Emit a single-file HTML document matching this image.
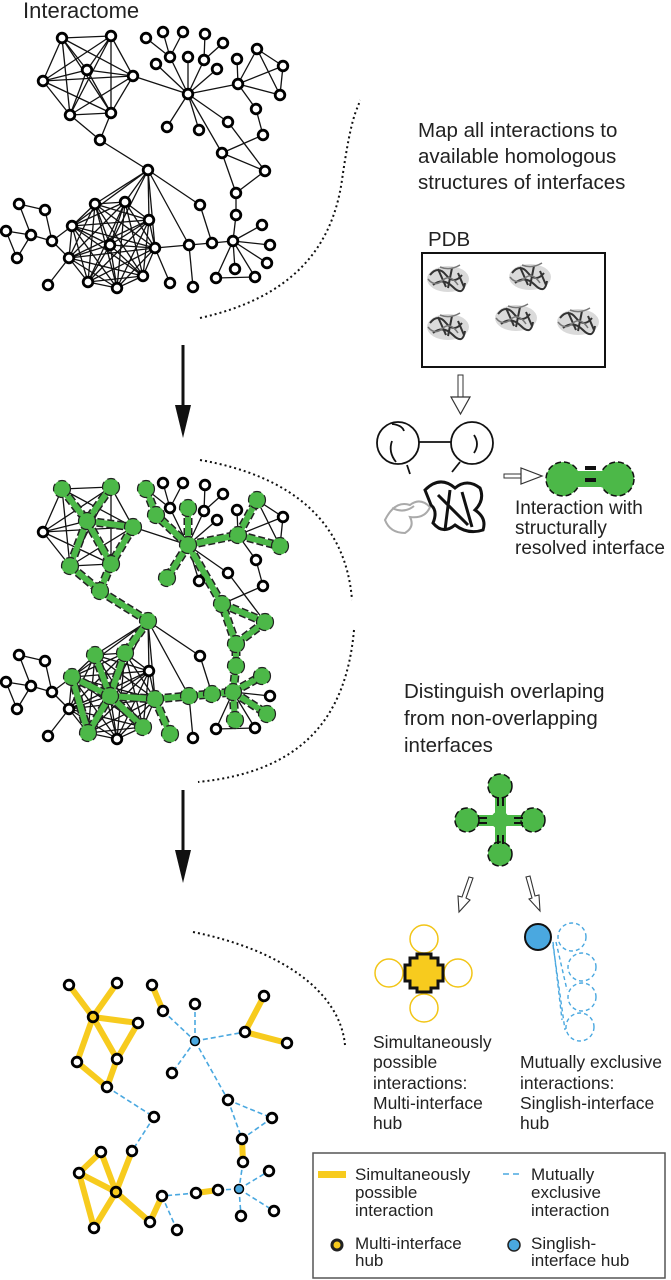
<!DOCTYPE html>
<html><head><meta charset="utf-8"><style>
html,body{margin:0;padding:0;background:#fff;}
svg{display:block;font-family:"Liberation Sans",Arial,sans-serif;}
</style></head><body>
<svg id="fig" width="671" height="1280" viewBox="0 0 671 1280" xmlns="http://www.w3.org/2000/svg">
<text x="23" y="18" font-size="22" fill="#222">Interactome</text>
<g id="net1"></g>
<g id="net2"></g>
<g id="net3"></g>

<g fill="none" stroke="#111" stroke-width="2" stroke-dasharray="2 3">
<path d="M200,318 C290,298 332,250 342,180 S357,112 360,100"/>
<path d="M200,460 C292,476 346,522 352,600"/>
<path d="M354,630 C346,720 300,772 198,782"/>
<path d="M193,932 C282,950 340,992 345,1045"/>
</g>

<g><line x1="183" y1="345" x2="183" y2="410" stroke="#111" stroke-width="3"/><polygon points="175,405 191,405 183,438" fill="#111"/></g>
<g><line x1="183" y1="790" x2="183" y2="855" stroke="#111" stroke-width="3"/><polygon points="175,850 191,850 183,883" fill="#111"/></g>

<g font-size="20.5" fill="#222">
<text x="418" y="137">Map all interactions to</text>
<text x="418" y="163">available homologous</text>
<text x="418" y="189">structures of interfaces</text>
</g>
<text x="428" y="246" font-size="20.5" fill="#222">PDB</text>
<rect x="422" y="253" width="183" height="114" fill="none" stroke="#111" stroke-width="2"/>
<g id="prots"></g>

<g><rect x="458" y="375" width="5" height="22" fill="#fff" stroke="#333" stroke-width="1"/><polygon points="451,397 470,397 460.5,414" fill="#fff" stroke="#333" stroke-width="1.2"/></g>

<g fill="none" stroke="#111" stroke-width="1.8">
<circle cx="398" cy="443" r="21"/><circle cx="472" cy="443" r="21"/>
<line x1="419" y1="442" x2="451" y2="442"/>
<path d="M392,424 Q402,425 404,431"/><path d="M392,441 Q388,452 396,462"/>
<path d="M474,435 Q480,444 474,453"/><path d="M407,465 L410,474"/><path d="M460,462 L452,472"/>
</g>
<g>
<path d="M385,520 q10,-20 25,-15 q10,-8 20,2 q-5,12 -20,10 q5,10 -5,16 q-15,0 -20,-13z M392,508 q12,6 22,-2" fill="none" stroke="#aaa" stroke-width="2"/>
<path d="M425,490 q15,-15 30,-2 q12,-10 25,0 q5,12 -5,22 q12,8 8,20 q-15,5 -28,-5 q-12,10 -22,-2 q5,-12 -2,-18z M438,495 l30,30 M450,490 l-5,40 M462,492 l10,35" fill="none" stroke="#111" stroke-width="3"/>
</g>
<g><rect x="504" y="474" width="18" height="4" fill="#fff" stroke="#333" stroke-width="1"/><polygon points="521,468 521,484 542,476" fill="#fff" stroke="#333" stroke-width="1.2"/></g>
<g>
<circle cx="563" cy="479" r="17" fill="#4cb848" stroke="#111" stroke-width="1.5" stroke-dasharray="6 3"/>
<circle cx="617" cy="479" r="17" fill="#4cb848" stroke="#111" stroke-width="1.5" stroke-dasharray="6 3"/>
<rect x="575" y="471" width="30" height="16" fill="#4cb848"/>
<rect x="585" y="466" width="11" height="4" fill="#111"/><rect x="585" y="478" width="11" height="4" fill="#111"/>
</g>
<g font-size="19" fill="#222">
<text x="515" y="514">Interaction with</text><text x="515" y="534">structurally</text><text x="515" y="554">resolved interface</text>
</g>

<g font-size="20.5" fill="#222">
<text x="404" y="698">Distinguish overlaping</text>
<text x="404" y="725">from non-overlapping</text>
<text x="404" y="752">interfaces</text>
</g>

<g>
<rect x="495" y="790" width="11" height="60" fill="#4cb848"/><rect x="470" y="815" width="60" height="11" fill="#4cb848"/>
<circle cx="500" cy="820" r="9" fill="#4cb848"/>
<g fill="#4cb848" stroke="#111" stroke-width="1.5" stroke-dasharray="7 3">
<circle cx="500" cy="786" r="12"/><circle cx="467" cy="820" r="12"/><circle cx="533" cy="820" r="12"/><circle cx="500" cy="854" r="12"/></g>
<g fill="#111"><rect x="497" y="797" width="2" height="9"/><rect x="502" y="797" width="2" height="9"/><rect x="497" y="835" width="2" height="9"/><rect x="502" y="835" width="2" height="9"/>
<rect x="478" y="817" width="9" height="2"/><rect x="478" y="822" width="9" height="2"/><rect x="514" y="817" width="9" height="2"/><rect x="514" y="822" width="9" height="2"/></g>
</g>
<g fill="#fff" stroke="#333" stroke-width="1.1">
<polygon points="469,877 473,878 466,898 470,900 459,912 458,896 462,897"/>
<polygon points="526,877 530,876 535,896 539,895 540,911 529,899 532,898"/>
</g>
<g>
<g fill="#fff" stroke="#f2c516" stroke-width="1.5"><circle cx="424" cy="939" r="14"/><circle cx="389" cy="973" r="14"/><circle cx="458" cy="973" r="14"/><circle cx="424" cy="1008" r="14"/></g>
<polygon points="417,954 431,954 431,958 438,958 438,965 443,965 443,981 438,981 438,988 431,988 431,992 417,992 417,988 410,988 410,981 405,981 405,965 410,965 410,958 417,958" fill="#f7cb1e" stroke="#111" stroke-width="3"/>
</g>
<g>
<g fill="none" stroke="#4aa8e0" stroke-width="1.4" stroke-dasharray="4 3"><circle cx="572" cy="937" r="14"/><circle cx="582" cy="967" r="14"/><circle cx="582" cy="997" r="14"/><circle cx="580" cy="1027" r="14"/>
<path d="M553,942 L562,1020 M556,942 L567,990 M553,945 L565,1030"/></g>
<circle cx="538" cy="937" r="13" fill="#4aa8e0" stroke="#111" stroke-width="2"/>
</g>
<g font-size="17.5" fill="#222">
<text x="373" y="1048">Simultaneously</text><text x="373" y="1068">possible</text><text x="373" y="1089">interactions:</text><text x="373" y="1109">Multi-interface</text><text x="373" y="1129">hub</text>
</g>
<g font-size="17.5" fill="#222">
<text x="520" y="1068">Mutually exclusive</text><text x="520" y="1089">interactions:</text><text x="520" y="1109">Singlish-interface</text><text x="520" y="1129">hub</text>
</g>

<g>
<rect x="313" y="1153" width="352" height="125" fill="#fff" stroke="#555" stroke-width="1.5"/>
<rect x="318" y="1171" width="28" height="7" fill="#f7cb1e"/>
<line x1="503" y1="1174" x2="522" y2="1174" stroke="#4aa8e0" stroke-width="1.6" stroke-dasharray="6 4"/>
<circle cx="337" cy="1245" r="5" fill="#f7cb1e" stroke="#222" stroke-width="3"/>
<circle cx="514" cy="1245" r="6" fill="#4aa8e0" stroke="#222" stroke-width="1.5"/>
<g font-size="17" fill="#222">
<text x="355" y="1180"><tspan x="355">Simultaneously</tspan><tspan x="355" dy="18">possible</tspan><tspan x="355" dy="18">interaction</tspan></text>
<text x="531" y="1180"><tspan x="531">Mutually</tspan><tspan x="531" dy="18">exclusive</tspan><tspan x="531" dy="18">interaction</tspan></text>
<text x="355" y="1249"><tspan x="355">Multi-interface</tspan><tspan x="355" dy="17">hub</tspan></text>
<text x="531" y="1249"><tspan x="531">Singlish-</tspan><tspan x="531" dy="17">interface hub</tspan></text>
</g>
</g>
</svg>
<script>
const NS="http://www.w3.org/2000/svg";
const nodeNames=["A1","A2","A3","A4","A5","A6","A7","A8","H","S","L1","L2","L3","L4","L5","L6","L7","L8","L9","L10","L11","L12","T1","T2","T3","T4","T5","C1","C2","C3","C4","C5","C6","C7","D1","D2","D3","D4","B1","B2","B3","B4","B5","B6","B7","B8","B9","B10","X","G","G1","G2","G3","G4","G5","G6","E1","E2","E3","E4","E5","E6","E7"];
const nodeX=[62,111,87,43,133,70,111,100,148,188,146,163,183,205,223,156,170,188,204,217,167,199,238,237,257,283,280,256,263,228,265,222,236,236,200,189,212,193,95,125,149,72,110,155,69,88,117,143,170,233,262,270,267,255,235,216,19,45,6,31,17,52,48];
const nodeY=[38,36,70,81,76,115,113,140,170,94,38,32,32,34,43,64,57,57,60,69,127,130,84,59,49,66,95,109,135,122,171,153,193,215,205,245,243,287,204,202,220,226,245,248,258,282,288,276,283,241,225,245,263,277,269,278,204,210,231,235,258,241,285];
const clusterA=["A1","A2","A3","A4","A5","A6","A7"];
const clusterB=["B1","B2","B3","B4","B5","B6","B7","B8","B9","B10"];
const extraEdges=[["A6","A8"],["A7","A8"],["A8","H"],["A5","S"],["S","L6"],["S","L7"],["S","L8"],["S","L9"],["S","L10"],["S","L11"],["S","L12"],["L1","L7"],["L2","L7"],["L3","L7"],["L4","L9"],["L5","L9"],["S","T1"],["T1","T2"],["T1","T3"],["T1","T4"],["T1","T5"],["T3","T4"],["T3","T5"],["T4","T5"],["T1","C1"],["C1","C2"],["S","C3"],["S","C5"],["C3","C4"],["C5","C2"],["C5","C4"],["C5","C6"],["C4","C6"],["C6","C7"],["C7","G"],["H","B1"],["H","B2"],["H","B3"],["H","B4"],["H","B5"],["H","B6"],["H","D1"],["H","D2"],["D1","D3"],["B6","X"],["B6","D2"],["D2","D3"],["D3","G"],["D2","D4"],["G","G1"],["G","G2"],["G","G3"],["G","G4"],["G","G5"],["G","G6"],["G6","G4"],["E1","E2"],["E1","E4"],["E2","E6"],["E3","E4"],["E3","E5"],["E4","E5"],["E4","E6"],["E6","B4"],["E6","B7"],["B7","E7"]];
const greenNodes=["A1","A2","A3","A5","A6","A7","A8","H","S","L1","L6","L8","L11","T1","T3","T5","C5","C4","C6","C7","G","G1","G3","G5","D3","D2","B6","X","B1","B2","B4","B5","B8","B10"];
const greenEdges=[["A1","A3"],["A2","A3"],["A3","A5"],["A3","A6"],["A3","A7"],["A5","A7"],["A6","A8"],["A7","A8"],["A8","H"],["H","B2"],["B2","B5"],["B1","B5"],["B4","B5"],["B5","B8"],["B5","B10"],["B4","B8"],["B5","B6"],["B6","X"],["B6","D2"],["D2","D3"],["D3","G"],["G","G1"],["G","G3"],["G","G5"],["G","C7"],["C7","C6"],["C6","C4"],["C6","C5"],["C5","C4"],["C5","S"],["S","L11"],["S","L8"],["S","L6"],["L6","L1"],["S","T1"],["T1","T3"],["T1","T5"]];
const hubNames=["a","b","c","d","e","f","g","h","i","j","k1","K","k2","l","l1","l2","m","m1","m2","m3","N","n1","n2","n3","o1","o2","o3","o4","u","q","p","r","s","t"];
const hubX=[69,117,93,138,77,117,107,154,152,163,195,195,172,245,264,287,228,272,242,243,239,269,274,241,218,196,162,177,150,132,101,79,116,94];
const hubY=[985,983,1017,1023,1062,1059,1087,1117,985,1011,1004,1041,1073,1032,996,1043,1100,1118,1139,1162,1189,1171,1211,1216,1190,1193,1196,1230,1222,1151,1152,1173,1192,1228];
const hubType={c:"multi",s:"multi",K:"single",N:"single"};
const yellowEdges=[["a","c"],["b","c"],["c","d"],["c","e"],["c","f"],["d","f"],["e","g"],["f","g"],["i","j"],["l","l1"],["l","l2"],["m2","m3"],["o1","o2"],["p","r"],["p","s"],["r","s"],["r","t"],["s","t"],["q","s"],["s","u"],["u","o3"]];
const blueEdges=[["g","h"],["h","q"],["j","K"],["K","k1"],["K","k2"],["K","l"],["K","m"],["m","m1"],["m","m2"],["m1","m2"],["m3","N"],["N","n1"],["N","n2"],["N","n3"],["N","o1"],["o2","o3"],["o3","o4"]];

function pos(n,dy){const i=nodeNames.indexOf(n);return [nodeX[i],nodeY[i]+dy];}
function hpos(n){const i=hubNames.indexOf(n);return [hubX[i],hubY[i]];}
function allEdges(){const e=[];[clusterA,clusterB].forEach(c=>{for(let i=0;i<c.length;i++)for(let j=i+1;j<c.length;j++)e.push([c[i],c[j]]);});return e.concat(extraEdges);}
function mk(tag,parent,attrs){const el=document.createElementNS(NS,tag);for(const k in attrs)el.setAttribute(k,attrs[k]);parent.appendChild(el);return el;}

function drawNetwork(g,dy,green){
  const edges=allEdges();
  edges.forEach(([a,b])=>{const p=pos(a,dy),q=pos(b,dy);
    const l=mk("line",g,{x1:p[0],y1:p[1],x2:q[0],y2:q[1],stroke:"#111","stroke-width":1.3});
    
    });
  if(green){
    greenEdges.forEach(([a,b])=>{const p=pos(a,dy),q=pos(b,dy);
      const l1=mk("line",g,{x1:p[0],y1:p[1],x2:q[0],y2:q[1],stroke:"#222","stroke-width":9,"stroke-dasharray":"7 3"});
      
      
      const l2=mk("line",g,{x1:p[0],y1:p[1],x2:q[0],y2:q[1],stroke:"#4cb848","stroke-width":6});
      
      });
  }
  nodeNames.forEach(n=>{const p=pos(n,dy);
    let c;
    if(green&&greenNodes.includes(n)){c=mk("circle",g,{cx:p[0],cy:p[1],r:8.5,fill:"#4cb848",stroke:"#222","stroke-width":1.2,"stroke-dasharray":"8 4"});
      }
    else{c=mk("circle",g,{cx:p[0],cy:p[1],r:4.8,fill:"#fff",stroke:"#000","stroke-width":2.8});
      }
    });
}
drawNetwork(document.getElementById("net1"),0,false);
drawNetwork(document.getElementById("net2"),451,true);

const g3=document.getElementById("net3");
blueEdges.forEach(([a,b])=>{const p=hpos(a),q=hpos(b);
  const l=mk("line",g3,{x1:p[0],y1:p[1],x2:q[0],y2:q[1],stroke:"#4aa8e0","stroke-width":1.6,"stroke-dasharray":"5 3"});
  
  });
yellowEdges.forEach(([a,b])=>{const p=hpos(a),q=hpos(b);
  const l=mk("line",g3,{x1:p[0],y1:p[1],x2:q[0],y2:q[1],stroke:"#f7cb1e","stroke-width":6});
  
  });
hubNames.forEach(n=>{const p=hpos(n);const t=hubType[n];
  const fill=t==="multi"?"#f7cb1e":t==="single"?"#4aa8e0":"#fff";
  const c=mk("circle",g3,{cx:p[0],cy:p[1],r:t==="single"?4.5:4.8,fill:fill,stroke:"#000","stroke-width":t==="single"?1.5:2.8});
  
  });

const pr=document.getElementById("prots");
const blobX=[448,530,448,516,578];
const blobY=[279,277,327,318,322];
blobX.forEach((x,i)=>{const y=blobY[i];
  const gg=mk("g",pr,{});
  
  
  mk("ellipse",gg,{cx:x,cy:y,rx:21,ry:13,fill:"#bbb",opacity:0.55});
  mk("path",gg,{d:`M${x-18},${y-4} q8,-10 16,0 t16,0 M${x-15},${y+6} q10,-8 20,2 t12,-4 M${x-10},${y-10} l8,18 M${x+4},${y-11} l-4,20 M${x+10},${y-6} l6,14`,fill:"none",stroke:"#333","stroke-width":2});
  mk("path",gg,{d:`M${x-20},${y} q6,8 14,2 q8,-8 16,4 M${x-8},${y-12} q10,4 20,-2`,fill:"none",stroke:"#777","stroke-width":1.5});
});
</script>
</body></html>
